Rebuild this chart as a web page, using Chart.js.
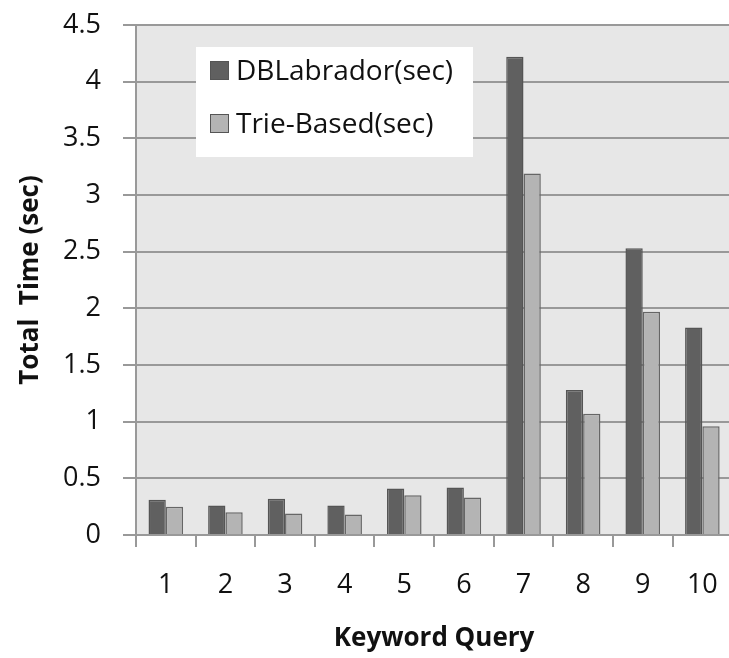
<!DOCTYPE html>
<html lang="en">
<head>
  <meta charset="UTF-8" />
  <title>Total Time per Keyword Query</title>
  <script src="https://cdn.jsdelivr.net/npm/chart.js"></script>
  <style>
    html, body {
      margin: 0;
      padding: 0;
      background: #ffffff;
      overflow: hidden;
    }
    #wrap {
      width: 729px;
      height: 658px;
      overflow: hidden;
    }
    canvas { display: block; }
  </style>
</head>
<body>
  <div id="wrap"><canvas id="timeChart" width="740" height="658"></canvas></div>

  <script>
    const queries = ["1", "2", "3", "4", "5", "6", "7", "8", "9", "10"];
    const dbLabrador = [0.31, 0.26, 0.32, 0.26, 0.41, 0.42, 4.22, 1.28, 2.53, 1.83];
    const trieBased = [0.25, 0.20, 0.19, 0.18, 0.35, 0.33, 3.19, 1.07, 1.97, 0.96];
    const yTicks = { min: 0, max: 4.5, step: 0.5 };

    const gridGrey = "#999999";
    const textFont = "'Open Sans', sans-serif";

    // grey plot background
    const plotBackground = {
      id: "plotBackground",
      beforeDraw(chart) {
        const { ctx, chartArea: a } = chart;
        ctx.save();
        ctx.fillStyle = "#e7e7e7";
        ctx.fillRect(a.left, a.top, a.right - a.left, a.bottom - a.top);
        ctx.restore();
      }
    };

    // legend box sitting inside the plot, top left
    const insideLegend = {
      id: "insideLegend",
      afterDatasetsDraw(chart) {
        const { ctx } = chart;
        const box = { x: 196, y: 47, w: 277, h: 110 };
        ctx.save();
        ctx.fillStyle = "#ffffff";
        ctx.fillRect(box.x, box.y, box.w, box.h);
        ctx.font = "28px " + textFont;
        ctx.textBaseline = "alphabetic";
        chart.data.datasets.forEach((ds, i) => {
          const top = 61 + i * 53;
          ctx.fillStyle = ds.backgroundColor;
          ctx.fillRect(210, top, 19, 19);
          ctx.strokeStyle = "#555555";
          ctx.lineWidth = 1;
          ctx.strokeRect(210.5, top + 0.5, 18, 18);
          ctx.fillStyle = "#111111";
          ctx.fillText(ds.label, 236, top + 19);
        });
        ctx.restore();
      }
    };

    const ctx = document.getElementById("timeChart").getContext("2d");

    new Chart(ctx, {
      type: "bar",
      data: {
        labels: queries,
        datasets: [
          {
            label: "DBLabrador(sec)",
            data: dbLabrador,
            backgroundColor: "#606060",
            borderColor: "#555555",
            borderWidth: 1.5
          },
          {
            label: "Trie-Based(sec)",
            data: trieBased,
            backgroundColor: "#b4b4b4",
            borderColor: "#666666",
            borderWidth: 1.5
          }
        ]
      },
      options: {
        responsive: false,
        animation: false,
        devicePixelRatio: 1,
        categoryPercentage: 0.58,
        barPercentage: 1.0,
        layout: { padding: { top: 25, right: 4, left: 0, bottom: 0 } },
        plugins: {
          legend: { display: false },
          tooltip: { enabled: false }
        },
        scales: {
          x: {
            offset: true,
            grid: {
              offset: true,
              drawOnChartArea: false,
              color: gridGrey,
              lineWidth: 2,
              tickLength: 12
            },
            border: { display: false },
            ticks: {
              color: "#111111",
              font: { family: textFont, size: 27 },
              padding: 22,
              maxRotation: 0
            },
            title: {
              display: true,
              text: "Keyword Query",
              color: "#111111",
              font: { family: textFont, size: 26, weight: "bold" },
              padding: { top: 0, bottom: 4 }
            },
            afterFit(scale) { scale.height = 123; }
          },
          y: {
            min: yTicks.min,
            max: yTicks.max,
            grid: {
              color: gridGrey,
              lineWidth: 2,
              tickLength: 13
            },
            border: { display: true, color: gridGrey, width: 2 },
            ticks: {
              stepSize: yTicks.step,
              color: "#111111",
              font: { family: textFont, size: 27 },
              padding: 22,
              callback: value => String(Math.round(value * 10) / 10)
            },
            title: {
              display: true,
              text: "Total  Time (sec)",
              color: "#111111",
              font: { family: textFont, size: 26, weight: "bold" },
              padding: { top: 15, bottom: 0 }
            },
            afterFit(scale) {
              scale.width = 136;
              scale.paddingTop = 0;
              scale.paddingBottom = 0;
            }
          }
        }
      },
      plugins: [plotBackground, insideLegend]
    });
  </script>
</body>
</html>
